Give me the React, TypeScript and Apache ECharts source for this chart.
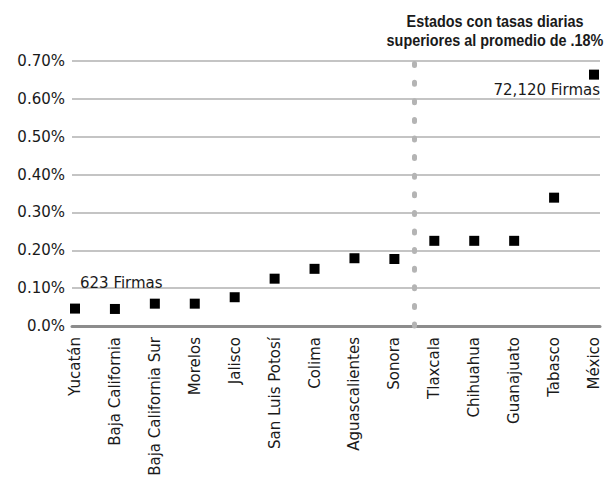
import React, { useEffect, useRef } from "react";
import * as echarts from "echarts";

const categories = [
  "Yucatán", "Baja California", "Baja California Sur", "Morelos", "Jalisco",
  "San Luis Potosí", "Colima", "Aguascalientes", "Sonora", "Tlaxcala",
  "Chihuahua", "Guanajuato", "Tabasco", "México",
];
const rates = [0.046, 0.045, 0.059, 0.059, 0.076, 0.125, 0.151, 0.179, 0.177, 0.225, 0.225, 0.225, 0.339, 0.664];
const yTicks = [0, 0.1, 0.2, 0.3, 0.4, 0.5, 0.6, 0.7];
const averageSplit = 8.5;
const lowLabel = "623 Firmas";
const highLabel = "72,120 Firmas";
const titleLines = ["Estados con tasas diarias", "superiores al promedio de .18%"];

const FONT = "'DejaVu Sans', sans-serif";

export default function App() {
  const ref = useRef<HTMLDivElement>(null);
  useEffect(() => {
    if (!ref.current) return;
    const chart = echarts.init(ref.current, null, { renderer: "svg" });
    const data = rates.map((v, i) => {
      const item: any = { value: [i, v] };
      if (i === 0) {
        item.label = {
          show: true, formatter: lowLabel, position: [10, -21], align: "left",
          verticalAlign: "middle", fontSize: 15, color: "#1a1a1a", fontFamily: FONT,
        };
      }
      if (i === rates.length - 1) {
        item.label = {
          show: true, formatter: highLabel, position: [11, 20], align: "right",
          verticalAlign: "middle", fontSize: 15, color: "#1a1a1a", fontFamily: FONT,
        };
      }
      return item;
    });
    chart.setOption({
      animation: false,
      grid: { left: 72, right: 8, top: 61, bottom: 159 },
      xAxis: {
        type: "value",
        min: -0.075,
        max: 13.15,
        splitLine: { show: false },
        axisLine: { show: true, onZero: false, lineStyle: { color: "#8c8c8c", width: 3 } },
        axisTick: { show: false },
        axisLabel: {
          customValues: categories.map((_, i) => i),
          formatter: (v: number) => categories[Math.round(v)] ?? "",
          rotate: 90,
          margin: 11,
          fontSize: 15,
          color: "#1a1a1a",
          fontFamily: FONT,
        },
      },
      yAxis: {
        type: "value",
        min: 0,
        max: 0.7,
        interval: 0.1,
        axisLine: { show: false },
        axisTick: { show: false },
        splitLine: { lineStyle: { color: "#c4c4c4", width: 2 } },
        axisLabel: {
          formatter: (v: number) => (v === 0 ? "0.0%" : v.toFixed(2) + "%"),
          margin: 7,
          fontSize: 15,
          color: "#1a1a1a",
          fontFamily: FONT,
          customValues: yTicks,
        },
      },
      series: [
        {
          type: "scatter",
          symbol: "rect",
          symbolSize: 10,
          itemStyle: { color: "#000", opacity: 1 },
          data,
          markLine: {
            silent: true,
            symbol: "none",
            label: { show: false },
            lineStyle: { color: "#b4b4b4", width: 5, type: [2, 16.6], cap: "round", opacity: 1 },
            data: [{ xAxis: averageSplit }],
          },
          z: 5,
        },
      ],
      graphic: [
        {
          type: "text",
          x: 495,
          y: 12,
          scaleX: 0.9,
          style: {
            text: titleLines.join("\n"),
            textAlign: "center",
            textVerticalAlign: "top",
            font: "bold 16px 'Liberation Sans', sans-serif",
            lineHeight: 19,
            fill: "#1a1a1a",
          },
        },
      ],
    });
    return () => chart.dispose();
  }, []);
  return <div ref={ref} style={{ position: "absolute", left: 0, top: 0, width: 608, height: 485 }} />;
}
